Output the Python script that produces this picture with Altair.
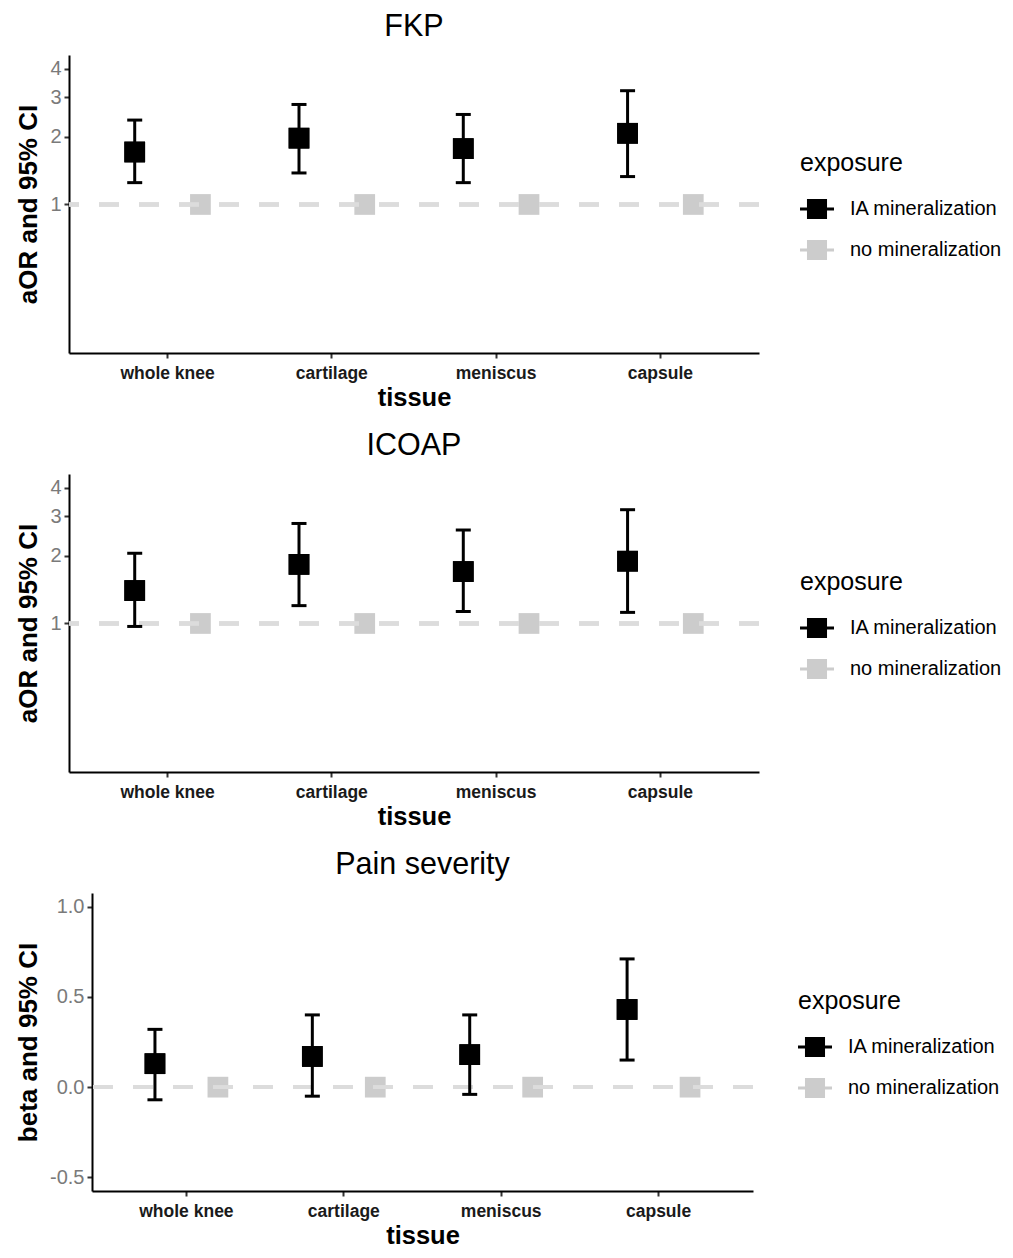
import altair as alt
import pandas as pd

# ---------------- data ----------------
tissues = ["whole knee", "cartilage", "meniscus", "capsule"]
exposures = ["IA mineralization", "no mineralization"]

fkp_est = [1.71, 1.97, 1.77, 2.07]
fkp_lo = [1.25, 1.38, 1.25, 1.33]
fkp_hi = [2.37, 2.78, 2.51, 3.20]
fkp_ref = [1, 1, 1, 1]

icoap_est = [1.40, 1.83, 1.70, 1.89]
icoap_lo = [0.97, 1.20, 1.13, 1.12]
icoap_hi = [2.05, 2.78, 2.60, 3.20]
icoap_ref = [1, 1, 1, 1]

pain_est = [0.13, 0.17, 0.18, 0.43]
pain_lo = [-0.07, -0.05, -0.04, 0.15]
pain_hi = [0.32, 0.40, 0.40, 0.71]
pain_ref = [0, 0, 0, 0]

panel_titles = ["FKP", "ICOAP", "Pain severity"]
y_titles = ["aOR and 95% CI", "aOR and 95% CI", "beta and 95% CI"]
or_ticks = [1, 2, 3, 4]
beta_ticks = [-0.5, 0.0, 0.5, 1.0]

FONT = "Liberation Sans"
LEGEND_PATH = ("M-1,-0.09L1,-0.09L1,0.09L-1,0.09Z "
               "M-0.59,-0.59L0.59,-0.59L0.59,0.59L-0.59,0.59Z")
PLOT_H = 298


def build_df(est, lo, hi, ref):
    rows = []
    for t, e, l, h, r in zip(tissues, est, lo, hi, ref):
        rows.append(dict(tissue=t, exposure=exposures[0], est=e, lo=l, hi=h))
        rows.append(dict(tissue=t, exposure=exposures[1], est=r, lo=r, hi=r))
    return pd.DataFrame(rows)


def spacer():
    # an invisible 1px view so that each panel is laid out by its own left edge
    return alt.Chart(pd.DataFrame({"v": [0]})).mark_rule(
        opacity=0, strokeWidth=0).encode(
        x=alt.value(0), x2=alt.value(0), y=alt.value(0), y2=alt.value(0)
    ).properties(width=1, height=1)


def panel(df, title, ytitle, yscale, yvalues, yformat, width, ref_value, legend_x):
    x = alt.X("tissue:N",
              scale=alt.Scale(domain=tissues, paddingInner=0, paddingOuter=0.1),
              axis=alt.Axis(title="tissue", labelAngle=0, labelFont=FONT,
                            labelFontSize=17.5, labelFontWeight="bold",
                            labelColor="#1a1a1a", titleFont=FONT,
                            titleFontSize=25.5, titleFontWeight="bold",
                            titleColor="#000000", domainColor="#000000",
                            domainWidth=2, tickColor="#333333", tickWidth=2,
                            tickSize=5, labelPadding=6, titlePadding=4))
    xo = alt.XOffset("exposure:N",
                     scale=alt.Scale(domain=exposures, paddingInner=0,
                                     paddingOuter=0.25))
    yax = alt.Axis(title=ytitle, values=yvalues, format=yformat,
                   labelExpr="replace(datum.label, '\u2212', '-')",
                   labelFont=FONT, labelFontSize=20, labelColor="#7a7a7a",
                   titleFont=FONT, titleFontSize=26, titleFontWeight="bold",
                   titleColor="#000000", domainColor="#000000", domainWidth=2,
                   tickColor="#333333", tickWidth=2, tickSize=5,
                   labelPadding=3, titlePadding=8)

    base = alt.Chart(df)
    ia = base.transform_filter(alt.datum.exposure == exposures[0])

    pts = base.mark_square(size=430, opacity=1).encode(
        x=x, xOffset=xo,
        y=alt.Y("est:Q", scale=yscale, axis=yax),
        color=alt.Color(
            "exposure:N",
            scale=alt.Scale(domain=exposures, range=["#000000", "#cccccc"]),
            legend=alt.Legend(title="exposure", orient="none",
                              legendX=legend_x, legendY=96,
                              symbolType=LEGEND_PATH, symbolSize=1156,
                              symbolStrokeWidth=0, titleFont=FONT,
                              titleFontSize=25, titleFontWeight="normal",
                              titleColor="#000000", labelFont=FONT,
                              labelFontSize=20, labelColor="#000000",
                              rowPadding=13, titlePadding=16, labelOffset=16,
                              padding=0)))

    dash = base.mark_rule(color="#dcdcdc", strokeWidth=3.5,
                          strokeDash=[20, 20]).encode(y=alt.datum(ref_value))

    bars = ia.mark_rule(color="#000000", strokeWidth=3).encode(
        x=x, xOffset=xo,
        y=alt.Y("lo:Q", scale=yscale, axis=yax), y2="hi:Q")
    cap_lo = ia.mark_tick(color="#000000", thickness=3, size=15, opacity=1).encode(
        x=x, xOffset=xo, y=alt.Y("lo:Q", scale=yscale, axis=yax))
    cap_hi = ia.mark_tick(color="#000000", thickness=3, size=15, opacity=1).encode(
        x=x, xOffset=xo, y=alt.Y("hi:Q", scale=yscale, axis=yax))
    pts_ia = ia.mark_square(size=430, opacity=1, color="#000000").encode(
        x=x, xOffset=xo, y=alt.Y("est:Q", scale=yscale, axis=yax))

    layered = alt.layer(pts, dash, bars, cap_lo, cap_hi, pts_ia).properties(
        width=width, height=PLOT_H,
        title=alt.TitleParams(title, font=FONT, fontSize=30.5,
                              fontWeight="normal", anchor="middle",
                              color="#000000", offset=13))
    return alt.hconcat(spacer(), layered, spacing=0).resolve_scale(
        color="independent", x="independent", y="independent",
        xOffset="independent")


log_scale = alt.Scale(type="log", domain=[0.219, 4.61], nice=False, zero=False)
lin_scale = alt.Scale(domain=[-0.575, 1.075], nice=False, zero=False)

p1 = panel(build_df(fkp_est, fkp_lo, fkp_hi, fkp_ref), panel_titles[0],
           y_titles[0], log_scale, or_ticks, "d", 690, 1, 731)
p2 = panel(build_df(icoap_est, icoap_lo, icoap_hi, icoap_ref), panel_titles[1],
           y_titles[1], log_scale, or_ticks, "d", 690, 1, 731)
p3 = panel(build_df(pain_est, pain_lo, pain_hi, pain_ref), panel_titles[2],
           y_titles[2], lin_scale, beta_ticks, ".1f", 661, 0, 706)

chart = alt.vconcat(p1, p2, p3, spacing=19).resolve_scale(
    color="independent", x="independent", y="independent",
    xOffset="independent"
).properties(padding={"left": 6, "top": 3, "right": 0, "bottom": 0}).configure_view(
    stroke=None).configure_axis(grid=False)

chart.save("out.html", embed_options={"renderer": "svg", "actions": False})
